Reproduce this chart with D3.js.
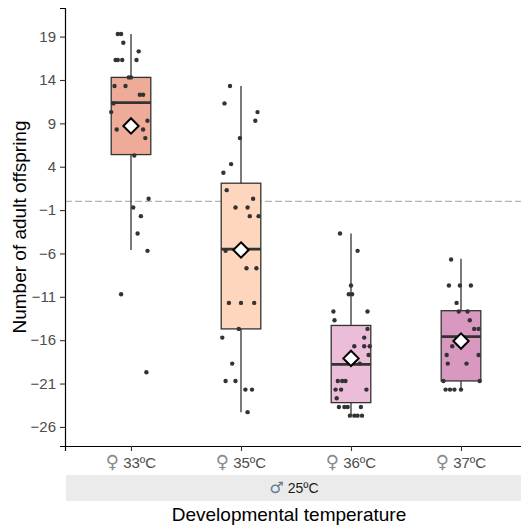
<!DOCTYPE html>
<html lang="en">
<head>
<meta charset="utf-8">
<title>Adult offspring</title>
<script src="https://cdn.jsdelivr.net/npm/d3@7"></script>
<style>
  body { margin: 0; background: #fff; }
  text { font-family: "Liberation Sans", Arial, sans-serif; }
</style>
</head>
<body>
<div id="chart"></div>
<script>
// categories and box stats
var categories = ["33\u00baC", "35\u00baC", "36\u00baC", "37\u00baC"]
var stripLabel = "25\u00baC"
var boxColors = ["#eeab98", "#fdd6bd", "#ecbdd8", "#d898c0"]
var whiskerHi = [19.3, 13.3, -3.7, -6.6]
var q3 = [14.3, 2.1, -14.3, -12.6]
var medians = [11.4, -5.5, -18.8, -15.6]
var q1 = [5.4, -14.7, -23.2, -20.7]
var whiskerLo = [-5.6, -24.3, -24.7, -21.6]
var means = [8.7, -5.6, -18.1, -16.1]
var yTicks = [19, 14, 9, 4, -1, -6, -11, -16, -21, -26]

// raw points: [jitter (category units), value]
var pts33 = [[-0.12,19.3],[-0.09,19.3],[-0.07,18.3],[0.07,17.3],[-0.14,16.3],[-0.12,16.3],[-0.08,16.3],[0.05,16.3],
  [-0.02,14.3],[0,14.3],[-0.15,13.3],[-0.05,13.3],[0.08,12.3],[0.11,12.3],[-0.16,11.3],[-0.18,10.3],[-0.13,8.3],
  [0.15,9.3],[0.11,8.3],[0.13,7.3],[0.03,5.3],[0.16,0.3],[0.02,-0.7],[0.09,-1.7],[0.06,-3.7],[0.15,-5.7],
  [-0.09,-10.7],[0.14,-19.7]]
var pts35 = [[-0.10,13.3],[-0.15,11.3],[0.15,10.3],[0.13,9.3],[-0.01,7.3],[-0.09,4.3],[-0.16,3.3],[-0.13,1.3],
  [0.11,0.3],[-0.05,-0.7],[0.06,-0.7],[0.08,-1.7],[0.16,-1.7],[-0.14,-5.7],[0.05,-7.7],[0.14,-7.7],[-0.11,-11.7],
  [0,-11.7],[0.12,-11.7],[-0.02,-14.7],[-0.17,-15.7],[-0.08,-18.7],[-0.14,-20.7],[-0.05,-20.7],[0.04,-21.7],
  [0.10,-21.7],[0.06,-24.3]]
var pts36 = [[-0.10,-3.7],[0.06,-5.7],[0,-9.7],[-0.02,-10.7],[0.01,-10.7],[-0.16,-12.7],[0.15,-12.7],[-0.15,-13.7],
  [0.15,-14.7],[0.12,-15.7],[0.03,-16.7],[0.12,-16.7],[0.17,-16.7],[0.16,-17.7],[0.08,-18.7],[-0.12,-20.7],
  [-0.08,-20.7],[-0.05,-20.7],[-0.14,-21.7],[-0.09,-21.7],[0.14,-21.7],[-0.13,-22.7],[-0.11,-23.7],[-0.06,-23.7],
  [-0.03,-23.7],[0.09,-23.7],[-0.01,-24.7],[0.03,-24.7],[0.06,-24.7],[0.10,-24.7]]
var pts37 = [[-0.09,-6.7],[-0.11,-9.7],[-0.01,-9.7],[0.09,-9.7],[-0.04,-11.7],[-0.02,-12.7],[0.06,-12.7],[0.08,-13.7],
  [0.12,-14.7],[0.16,-14.7],[-0.08,-16.7],[-0.13,-17.7],[0.16,-17.7],[-0.12,-18.7],[0.05,-18.7],[-0.16,-20.7],
  [0.17,-20.7],[-0.14,-21.7],[-0.10,-21.7],[-0.06,-21.7],[0,-21.7]]
var points = [pts33, pts35, pts36, pts37]

var w = 521, h = 529
var mLeft = 65, mRight = 527, mTop = 8, mBottom = 446

var svg = d3.select("#chart").append("svg")
  .attr("width", w).attr("height", h)

var xScale = d3.scaleLinear().domain([-0.6, 3.6]).range([mLeft, mRight])
var yScale = d3.scaleLinear().domain([-28.2, 22.3]).range([mBottom, mTop])
var boxHalf = 0.18

// reference line at zero
svg.append("line")
  .attr("x1", mLeft).attr("x2", w)
  .attr("y1", yScale(0)).attr("y2", yScale(0))
  .attr("stroke", "#b3b3b3").attr("stroke-width", 1.1)
  .attr("stroke-dasharray", "7,3")

var groups = svg.selectAll("g.box")
  .data(categories)
  .enter().append("g").attr("class", "box")

// whiskers
groups.append("line")
  .attr("x1", function(d,i){ return xScale(i) })
  .attr("x2", function(d,i){ return xScale(i) })
  .attr("y1", function(d,i){ return yScale(whiskerHi[i]) })
  .attr("y2", function(d,i){ return yScale(whiskerLo[i]) })
  .attr("stroke", "#333").attr("stroke-width", 1.3)

// boxes
groups.append("rect")
  .attr("x", function(d,i){ return xScale(i - boxHalf) })
  .attr("width", function(d,i){ return xScale(i + boxHalf) - xScale(i - boxHalf) })
  .attr("y", function(d,i){ return yScale(q3[i]) })
  .attr("height", function(d,i){ return yScale(q1[i]) - yScale(q3[i]) })
  .attr("fill", function(d,i){ return boxColors[i] })
  .attr("stroke", "#333").attr("stroke-width", 1.3)

// medians
groups.append("line")
  .attr("x1", function(d,i){ return xScale(i - boxHalf) })
  .attr("x2", function(d,i){ return xScale(i + boxHalf) })
  .attr("y1", function(d,i){ return yScale(medians[i]) })
  .attr("y2", function(d,i){ return yScale(medians[i]) })
  .attr("stroke", "#333").attr("stroke-width", 2.8)

// jittered points
groups.each(function(d,i){
  d3.select(this).selectAll("circle")
    .data(points[i])
    .enter().append("circle")
    .attr("cx", function(p){ return xScale(i + p[0]) })
    .attr("cy", function(p){ return yScale(p[1]) })
    .attr("r", 2.2)
    .attr("fill", "#333")
})

// mean diamonds
groups.append("path")
  .attr("d", d3.symbol().type(d3.symbolDiamond2).size(150))
  .attr("transform", function(d,i){ return "translate(" + xScale(i) + "," + yScale(means[i]) + ")" })
  .attr("fill", "#fff").attr("stroke", "#000").attr("stroke-width", 2)

// axes
var yAxis = d3.axisLeft(yScale).tickValues(yTicks).tickSize(5).tickPadding(4)
var yG = svg.append("g").attr("transform", "translate(" + mLeft + ",0)").call(yAxis)
yG.select(".domain").attr("stroke", "#000").attr("stroke-width", 1.2)
yG.selectAll(".tick line").attr("stroke", "#333").attr("stroke-width", 1.1)
yG.selectAll(".tick text").attr("font-size", "15px").attr("fill", "#4d4d4d")
  .style("font-family", "'Liberation Sans', Arial, sans-serif")

var xAxis = d3.axisBottom(xScale).tickValues([0,1,2,3])
  .tickFormat("").tickSize(5)
var xG = svg.append("g").attr("transform", "translate(0," + mBottom + ")").call(xAxis)
xG.select(".domain").attr("stroke", "#000").attr("stroke-width", 1.2)
xG.selectAll(".tick line").attr("stroke", "#333").attr("stroke-width", 1.1)

// tick labels with the female symbol
var xl = svg.selectAll("text.xlab")
  .data(categories)
  .enter().append("text").attr("class", "xlab")
  .attr("x", function(d,i){ return xScale(i) })
  .attr("y", mBottom + 22)
  .attr("text-anchor", "middle").attr("font-size", "15px").attr("fill", "#4d4d4d")
xl.append("tspan").style("font-family", "'DejaVu Sans', sans-serif")
  .attr("fill", "#8a8a8a").attr("font-size", "18px").text("\u2640")
xl.append("tspan").text(function(d){ return " " + d })

// strip
svg.append("rect")
  .attr("x", mLeft + 1).attr("y", 475).attr("width", w - mLeft).attr("height", 26)
  .attr("fill", "#ebebeb")
var st = svg.append("text")
  .attr("x", (mLeft + mRight) / 2 - 2).attr("y", 493)
  .attr("text-anchor", "middle").attr("font-size", "14px").attr("fill", "#1a1a1a")
st.append("tspan").style("font-family", "'DejaVu Sans', sans-serif")
  .attr("fill", "#6a7a8a").attr("font-size", "16px").text("\u2642")
st.append("tspan").text(" " + stripLabel)

// titles
svg.append("text")
  .attr("x", (mLeft + mRight) / 2 - 7).attr("y", 521)
  .attr("text-anchor", "middle").attr("font-size", "19px").attr("fill", "#000")
  .text("Developmental temperature")

svg.append("text")
  .attr("transform", "translate(26," + ((mTop + mBottom) / 2) + ") rotate(-90)")
  .attr("text-anchor", "middle").attr("font-size", "19px").attr("fill", "#000")
  .text("Number of adult offspring")
</script>
</body>
</html>
